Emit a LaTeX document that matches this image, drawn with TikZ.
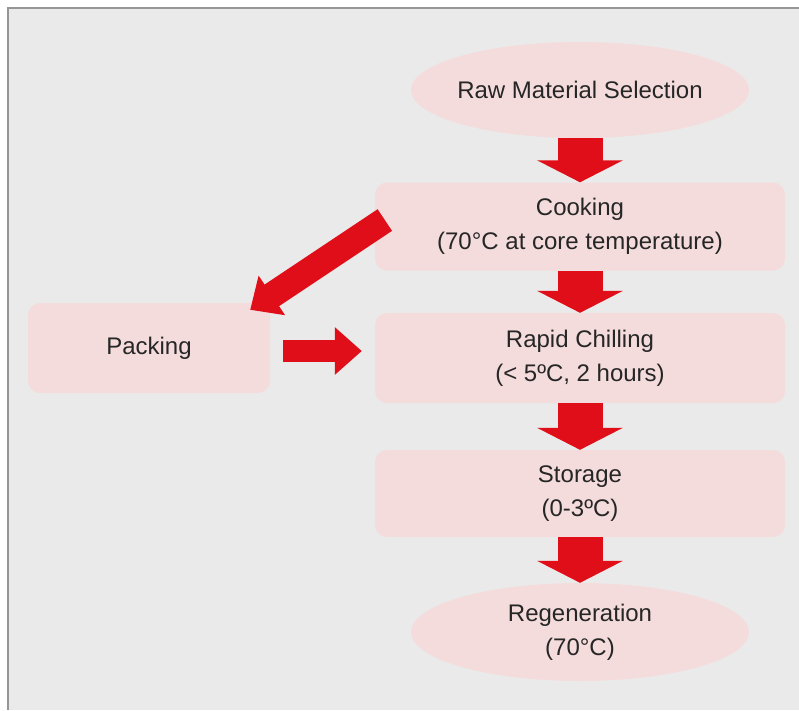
\documentclass[tikz,border=0pt]{standalone}
\usepackage{fontspec}
\setmainfont{Liberation Sans}
\usetikzlibrary{arrows.meta,shapes.geometric,calc}
\definecolor{bg}{RGB}{234,234,234}
\definecolor{boxpink}{RGB}{245,220,220}
\definecolor{arrred}{RGB}{224,14,24}
\definecolor{framegray}{RGB}{150,150,150}
\begin{document}
\begin{tikzpicture}[x=1pt,y=-1pt,
  lbl/.style={font=\fontsize{24}{34}\selectfont, align=center, text=black!85},
  stepbox/.style={lbl, fill=boxpink, rounded corners=12pt, minimum width=410pt, minimum height=88pt, inner sep=0pt},
  oval/.style={lbl, ellipse, fill=boxpink, minimum width=338pt, minimum height=96pt, inner xsep=-40pt, inner ysep=0pt},
  vflow/.style={arrred, line width=45pt, -{Triangle[width=85pt,length=22pt]}},
  dflow/.style={arrred, line width=26pt, -{Triangle[width=46pt,length=26pt]}},
  hflow/.style={arrred, line width=22pt, -{Triangle[width=46pt,length=27pt]}},
]
\useasboundingbox (0,0) rectangle (799,710);
\fill[white] (0,0) rectangle (799,710);
\fill[bg] (8,8) rectangle (799,710);
\draw[framegray, line width=2pt] (8,710) -- (8,8) -- (799,8);

\node[oval] (raw) at (580,90) {Raw Material Selection};
\node[stepbox] (cook) at (580,226.5) {Cooking\\(70°C at core temperature)};
\node[stepbox, minimum height=90pt] (chill) at (580,358) {Rapid Chilling\\(< 5ºC, 2 hours)};
\node[stepbox, minimum height=87pt] (store) at (580,493.5) {Storage\\(0-3ºC)};
\node[oval, minimum height=98pt] (regen) at (580,632) {Regeneration\\(70°C)};
\node[stepbox, minimum width=242pt, minimum height=90pt] (pack) at (149,348) {Packing};

\draw[vflow] (raw.south) -- (cook.north);
\draw[vflow] (cook.south) -- (chill.north);
\draw[vflow] (chill.south) -- (store.north);
\draw[vflow] (store.south) -- (regen.north);

\coordinate (dtail) at ($(cook.west)+(10,-6.5)$);
\coordinate (dtip) at ($(pack.north east)+(-20,7)$);
\draw[dflow] (dtail) -- (dtip);

\coordinate (htail) at ($(pack.east)+(13,3)$);
\coordinate (htip) at ($(chill.west)+(-13,0)$);
\draw[hflow] (htail) -- (htip |- htail);
\end{tikzpicture}
\end{document}
